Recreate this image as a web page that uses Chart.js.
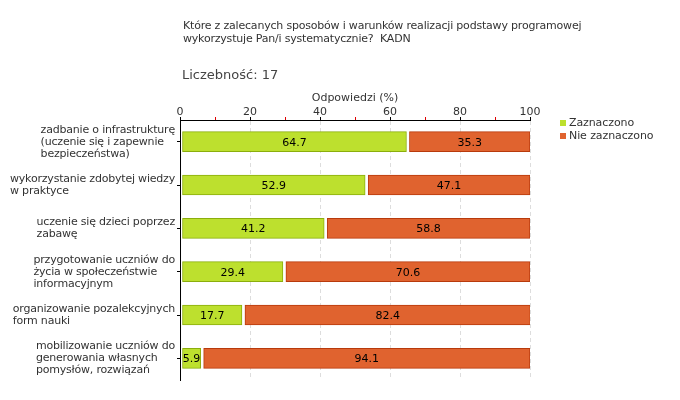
<!DOCTYPE html>
<html>
<head>
<meta charset="utf-8">
<script src="https://cdn.jsdelivr.net/npm/chart.js@4/dist/chart.umd.min.js"></script>
<style>
  html, body { margin: 0; padding: 0; background: #fff; }
  #wrap { position: relative; width: 680px; height: 400px; font-family: "DejaVu Sans", Verdana, sans-serif; color: #333; }
  #c { position: absolute; left: 0; top: 0; }
  .title { position: absolute; left: 183px; top: 19px; font-size: 11px; line-height: 13px; white-space: pre; letter-spacing: -0.2px; }
  .count { position: absolute; left: 182px; top: 67px; font-size: 13px; line-height: 16px; color: #444; }
  .legend { position: absolute; left: 560px; top: 116px; font-size: 11px; line-height: 13px; letter-spacing: -0.1px; }
  .legend div { position: relative; padding-left: 9px; white-space: nowrap; }
  .legend span { position: absolute; left: 0; top: 4px; width: 6px; height: 6px; }
</style>
</head>
<body>
<div id="wrap">
  <canvas id="c" width="680" height="400"></canvas>
  <div class="title">Które z zalecanych sposobów i warunków realizacji podstawy programowej
wykorzystuje Pan/i systematycznie?  KADN</div>
  <div class="count">Liczebność: 17</div>
  <div class="legend" id="legend"></div>
</div>
<script>
const categories = [
  ["zadbanie o infrastrukturę", "(uczenie się i zapewnie", "bezpieczeństwa)"],
  ["wykorzystanie zdobytej wiedzy", "w praktyce"],
  ["uczenie się dzieci poprzez", "zabawę"],
  ["przygotowanie uczniów do", "życia w społeczeństwie", "informacyjnym"],
  ["organizowanie pozalekcyjnych", "form nauki"],
  ["mobilizowanie uczniów do", "generowania własnych", "pomysłów, rozwiązań"]
];
const seriesNames = ["Zaznaczono", "Nie zaznaczono"];
const zaznaczono = [64.7, 52.9, 41.2, 29.4, 17.7, 5.9];
const nieZaznaczono = [35.3, 47.1, 58.8, 70.6, 82.4, 94.1];
const axisTitle = "Odpowiedzi (%)";

const fills = ["#BDE02E", "#E0632F"];
const borders = ["#8BAE0C", "#B83A0C"];
const FONT = '"DejaVu Sans", Verdana, sans-serif';

// HTML legend
const lg = document.getElementById('legend');
seriesNames.forEach((n, i) => {
  const d = document.createElement('div');
  const s = document.createElement('span');
  s.style.background = fills[i];
  d.appendChild(s);
  d.appendChild(document.createTextNode(n));
  lg.appendChild(d);
});

const gapPlugin = {
  id: 'gapPlugin',
  afterDatasetsUpdate(chart) {
    const offs = [2, 3];
    chart.data.datasets.forEach((ds, d) => {
      chart.getDatasetMeta(d).data.forEach(el => { el.base += offs[d]; });
    });
  }
};

const valueLabels = {
  id: 'valueLabels',
  afterDatasetsDraw(chart) {
    const ctx = chart.ctx;
    ctx.save();
    ctx.font = '11px ' + FONT;
    ctx.fillStyle = '#000';
    ctx.textAlign = 'center';
    ctx.textBaseline = 'middle';
    chart.data.datasets.forEach((ds, d) => {
      chart.getDatasetMeta(d).data.forEach((el, i) => {
        const cx = (el.x + el.base) / 2;
        ctx.fillText(ds.data[i].toFixed(1), cx, el.y + 1);
      });
    });
    ctx.restore();
  }
};

const yLabels = {
  id: 'yLabels',
  afterDraw(chart) {
    const ctx = chart.ctx;
    const ys = chart.scales.y;
    ctx.save();
    ctx.font = '11px ' + FONT;
    if ('letterSpacing' in ctx) ctx.letterSpacing = '-0.2px';
    ctx.fillStyle = '#333';
    ctx.textAlign = 'left';
    ctx.textBaseline = 'middle';
    categories.forEach((lines, i) => {
      const y = ys.getPixelForValue(i);
      const maxW = Math.max(...lines.map(l => ctx.measureText(l).width));
      const x0 = ys.right - 5 - maxW;
      lines.forEach((l, j) => {
        ctx.fillText(l, x0, y + (j - (lines.length - 1) / 2) * 12);
      });
    });
    ctx.restore();
  }
};

new Chart(document.getElementById('c'), {
  type: 'bar',
  data: {
    labels: categories,
    datasets: [
      { label: seriesNames[0], data: zaznaczono, backgroundColor: fills[0], borderColor: borders[0], borderWidth: 1, borderSkipped: false, barThickness: 20 },
      { label: seriesNames[1], data: nieZaznaczono, backgroundColor: fills[1], borderColor: borders[1], borderWidth: 1, borderSkipped: false, barThickness: 20 }
    ]
  },
  options: {
    indexAxis: 'y',
    responsive: false,
    animation: false,
    layout: { padding: { left: 0, right: 150, top: 75, bottom: 20 } },
    plugins: { legend: { display: false }, tooltip: { enabled: false } },
    scales: {
      x: {
        position: 'top',
        stacked: true,
        min: 0, max: 100,
        afterFit(s) { s.height = 45; },
        ticks: {
          stepSize: 10,
          autoSkip: false,
          maxRotation: 0,
          padding: -2,
          color: '#333',
          font: { family: FONT, size: 11 },
          callback: v => (v % 20 === 0 ? v : '')
        },
        grid: {
          drawTicks: true,
          tickLength: 3,
          color: ctx => (ctx.tick && ctx.tick.value % 20 === 0 && ctx.tick.value !== 0) ? '#DDDDDD' : 'rgba(0,0,0,0)',
          tickColor: ctx => (ctx.tick && ctx.tick.value % 20 === 0) ? '#000' : '#E00000'
        },
        border: { display: true, color: '#000', width: 1, dash: [4, 3] },
        title: { display: true, text: axisTitle, color: '#333', font: { family: FONT, size: 11 }, padding: { top: 17, bottom: 0 } }
      },
      y: {
        stacked: true,
        afterFit(s) { s.width = 180; },
        ticks: { display: false },
        grid: { drawOnChartArea: false, drawTicks: true, tickLength: 3, tickColor: '#000', offset: false },
        border: { display: true, color: '#000', width: 1 }
      }
    }
  },
  plugins: [gapPlugin, valueLabels, yLabels]
});
</script>
</body>
</html>
